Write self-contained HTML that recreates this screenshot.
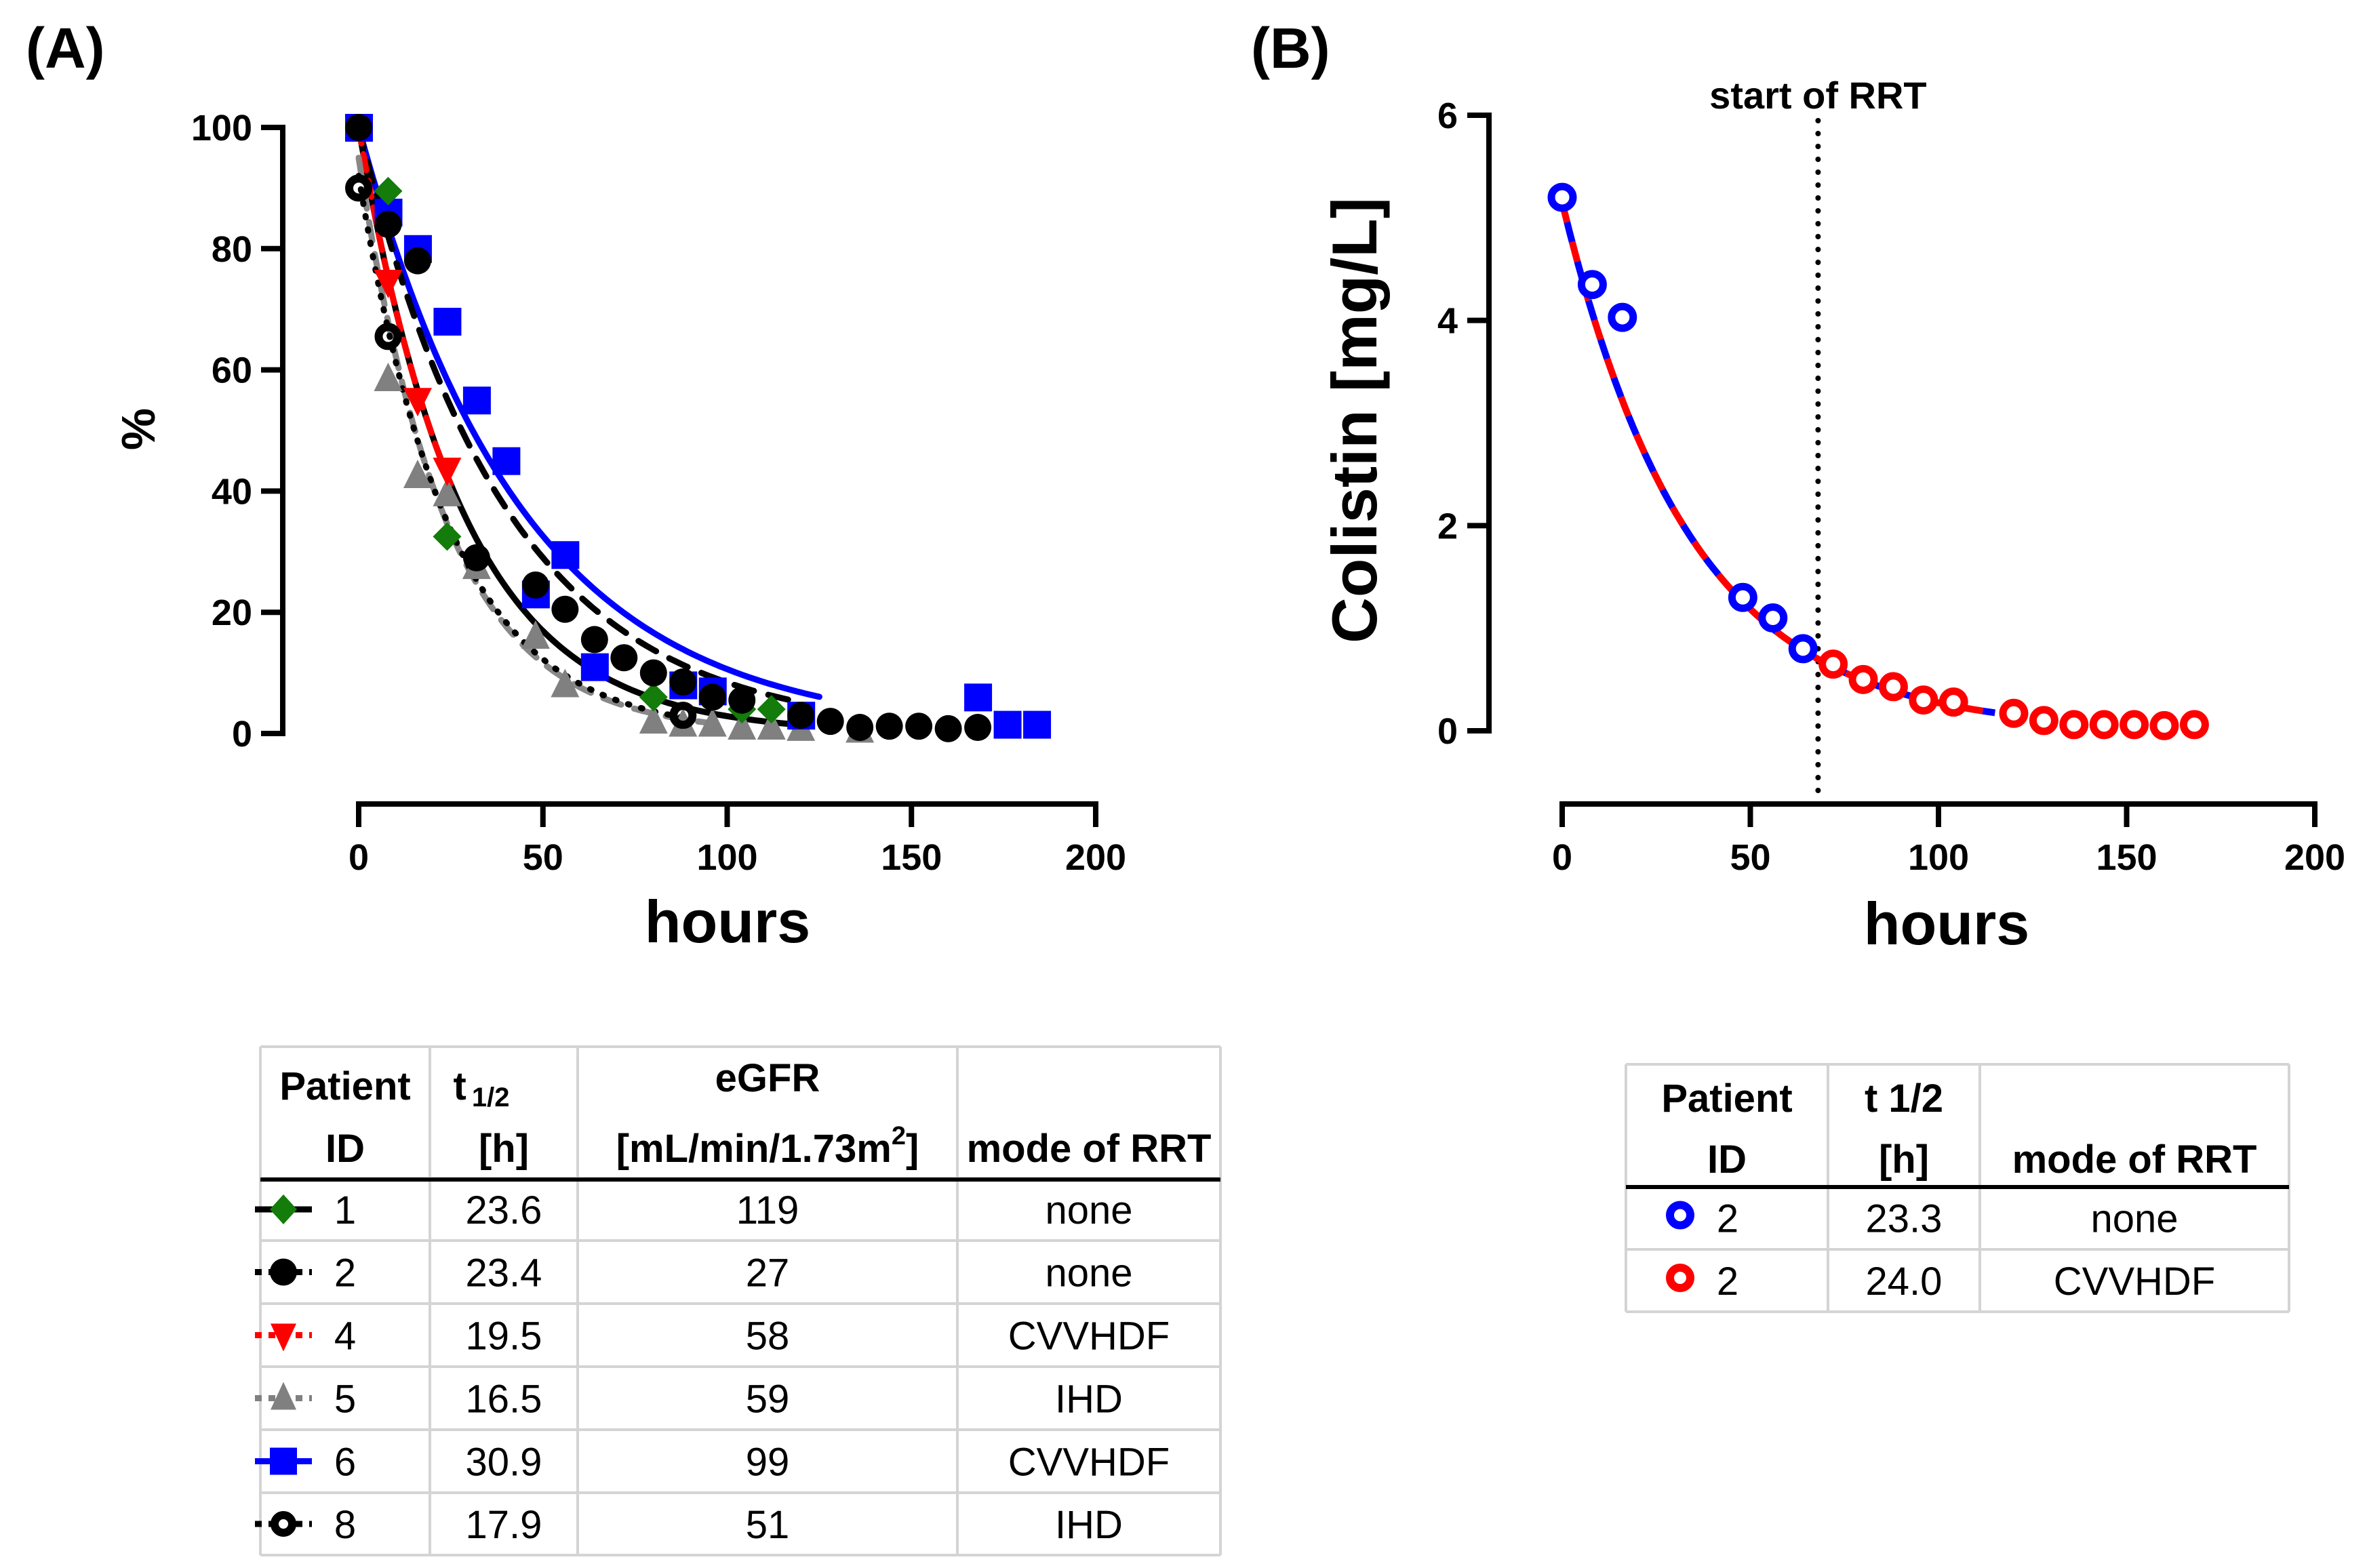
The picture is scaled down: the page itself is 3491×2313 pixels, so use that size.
<!DOCTYPE html>
<html><head><meta charset="utf-8"><style>
html,body{margin:0;padding:0;background:#fff;}
svg{display:block;}
.tk{font-family:"Liberation Sans",Arial,sans-serif;font-weight:bold;font-size:54px;fill:#000;}
.tb{font-family:"Liberation Sans Narrow","Liberation Sans",sans-serif;font-size:58px;fill:#000;}
.tbh{font-family:"Liberation Sans Narrow","Liberation Sans",sans-serif;font-size:58px;font-weight:bold;fill:#000;}
</style></head><body>
<svg id="fig" xmlns="http://www.w3.org/2000/svg" width="3491" height="2313" viewBox="0 0 3491 2313">
<rect width="3491" height="2313" fill="#fff"/>
<text x="38" y="100" font-family="Liberation Sans,sans-serif" font-weight="bold" font-size="84">(A)</text>
<text x="1845" y="100" font-family="Liberation Sans,sans-serif" font-weight="bold" font-size="84">(B)</text>
<g id="chartA"></g>
<g id="chartB"></g>
<g id="tableA"></g>
<g id="tableB"></g>
</svg>
<script>
// ---------- Chart A data ----------
const aXTicks = [0, 50, 100, 150, 200];
const aYTicks = [0, 20, 40, 60, 80, 100];
const p1Hours = [8, 24, 80, 104, 112];
const p1Vals  = [89.5, 32.5, 6, 4, 4];
const p2Hours = [0, 8, 16, 32, 48, 56, 64, 72, 80, 88, 96, 104, 120, 128, 136, 144, 152, 160, 168];
const p2Vals  = [100, 84, 78, 29, 24.5, 20.5, 15.5, 12.5, 10, 8.5, 6, 5.5, 3, 2, 1, 1.2, 1.2, 0.8, 1];
const p4Hours = [8, 16, 24];
const p4Vals  = [74.5, 55, 43.5];
const p5Hours = [8, 16, 24, 32, 48, 56, 80, 88, 96, 104, 112, 120, 136];
const p5Vals  = [58.5, 42.5, 39.5, 27.5, 16, 8, 2, 1.5, 1.5, 1, 1, 0.8, 0.5];
const p6Hours = [0, 8, 16, 24, 32, 40, 48, 56, 64, 88, 96, 120, 168, 176, 184];
const p6Vals  = [100, 86, 80, 68, 55, 45, 23, 29.5, 11, 8, 7, 3, 6, 1.5, 1.5];
const p8Hours = [0, 8, 88];
const p8Vals  = [90, 65.5, 3];
// fitted curves: start value, half-life, end hour
const fitY0   = [100, 100, 100, 100, 95, 92];
const fitHalf = [30.9, 28, 19.5, 19.5, 16.5, 17.2];
const fitEnd  = [125, 120, 120, 25, 100, 90];

// ---------- Chart B data ----------
const bXTicks = [0, 50, 100, 150, 200];
const bYTicks = [0, 2, 4, 6];
const bBlueHours = [0, 8, 16, 48, 56, 64];
const bBlueVals  = [5.2, 4.35, 4.03, 1.3, 1.1, 0.8];
const bRedHours  = [72, 80, 88, 96, 104, 120, 128, 136, 144, 152, 160, 168];
const bRedVals   = [0.65, 0.5, 0.43, 0.3, 0.28, 0.17, 0.1, 0.06, 0.06, 0.06, 0.05, 0.06];
const bFitY0 = [5.15];
const bFitHalf = [23.6];
const bFitEnd = [115];
const bRRTHour = [68];

const NS = "http://www.w3.org/2000/svg";
function mk(tag, attrs, parent){const e=document.createElementNS(NS,tag);for(const k in attrs)e.setAttribute(k,attrs[k]);if(parent)parent.appendChild(e);return e;}

// ---------- Chart A ----------
(function(){
const g=document.getElementById('chartA');
const X=t=>529+(t/200)*(1616-529);
const Y=v=>1082-(v/100)*(1082-188);
let e;
e=mk('line',{x1:417,y1:184,x2:417,y2:1086,stroke:'#000','stroke-width':8},g);


aYTicks.forEach(v=>{
  e=mk('line',{x1:385,y1:Y(v),x2:417,y2:Y(v),stroke:'#000','stroke-width':8},g);
  
  
  e=mk('text',{x:372,y:Y(v)+19,'text-anchor':'end',class:'tk'},g);e.textContent=v;
  
  
});
e=mk('line',{x1:X(0)-4,y1:1186,x2:X(200)+4,y2:1186,stroke:'#000','stroke-width':8},g);


aXTicks.forEach(v=>{
  e=mk('line',{x1:X(v),y1:1186,x2:X(v),y2:1220,stroke:'#000','stroke-width':8},g);
  
  
  e=mk('text',{x:X(v),y:1283,'text-anchor':'middle',class:'tk'},g);e.textContent=v;
  
  
});
e=mk('text',{x:1073,y:1390,'text-anchor':'middle','font-family':'Liberation Sans,sans-serif','font-weight':'bold','font-size':88},g);e.textContent='hours';


e=mk('text',{x:0,y:0,'text-anchor':'middle','font-family':'Liberation Sans,sans-serif','font-weight':'bold','font-size':70,transform:'translate(228,633) rotate(-90)'},g);e.textContent='%';


// curves
const styles=[['#0000ff','none'],['#000','30 22'],['#000','none'],['#ff0000','24 16'],['#888','28 20'],['#000','2 18']];
const fitNames=['fit-patient-6','fit-patient-2','fit-patient-1','fit-patient-4','fit-patient-5','fit-patient-8'];
fitY0.forEach((y0,i)=>{
  let d='';
  for(let t=0;t<=fitEnd[i];t+=1){const v=y0*Math.pow(2,-t/fitHalf[i]);d+=(t?'L':'M')+X(t).toFixed(1)+' '+Y(v).toFixed(1);}
  e=mk('path',{d:d,fill:'none',stroke:styles[i][0],'stroke-width':9,'stroke-dasharray':styles[i][1],'stroke-linecap':'round'},g);
  
  
});
function pts(hours,vals,shape,color,name){
  hours.forEach((t,i)=>{
    const x=X(t),y=Y(vals[i]);let m;
    if(shape==='sq')m=mk('rect',{x:x-20,y:y-20,width:41,height:41,fill:color},g);
    else if(shape==='ci')m=mk('circle',{cx:x,cy:y,r:20,fill:color},g);
    else if(shape==='oc')m=mk('circle',{cx:x,cy:y,r:14,fill:'none',stroke:color,'stroke-width':12},g);
    else if(shape==='di')m=mk('polygon',{points:`${x},${y-21} ${x+21},${y} ${x},${y+21} ${x-21},${y}`,fill:color},g);
    else if(shape==='td')m=mk('polygon',{points:`${x-21},${y-18} ${x+21},${y-18} ${x},${y+24}`,fill:color},g);
    else if(shape==='tu')m=mk('polygon',{points:`${x-21},${y+18} ${x+21},${y+18} ${x},${y-24}`,fill:color},g);
    
    
  });
}
pts(p5Hours,p5Vals,'tu','#808080','point-patient-5');
pts(p6Hours,p6Vals,'sq','#0000ff','point-patient-6');
pts(p1Hours,p1Vals,'di','#137c0a','point-patient-1');
pts(p4Hours,p4Vals,'td','#ff0000','point-patient-4');
pts(p2Hours,p2Vals,'ci','#000','point-patient-2');
pts(p8Hours,p8Vals,'oc','#000','point-patient-8');
})();

// ---------- Chart B ----------
(function(){
const g=document.getElementById('chartB');
const X=t=>2304+(t/200)*(3414-2304);
const Y=v=>1078-(v/6)*(1078-170);
let e;
e=mk('line',{x1:2196,y1:166,x2:2196,y2:1082,stroke:'#000','stroke-width':8},g);


bYTicks.forEach(v=>{
  e=mk('line',{x1:2164,y1:Y(v),x2:2196,y2:Y(v),stroke:'#000','stroke-width':8},g);
  
  
  e=mk('text',{x:2150,y:Y(v)+19,'text-anchor':'end',class:'tk'},g);e.textContent=v;
  
  
});
e=mk('line',{x1:X(0)-4,y1:1186,x2:X(200)+4,y2:1186,stroke:'#000','stroke-width':8},g);


bXTicks.forEach(v=>{
  e=mk('line',{x1:X(v),y1:1186,x2:X(v),y2:1220,stroke:'#000','stroke-width':8},g);
  
  
  e=mk('text',{x:X(v),y:1283,'text-anchor':'middle',class:'tk'},g);e.textContent=v;
  
  
});
e=mk('text',{x:2871,y:1393,'text-anchor':'middle','font-family':'Liberation Sans,sans-serif','font-weight':'bold','font-size':88},g);e.textContent='hours';


e=mk('text',{x:0,y:0,'text-anchor':'middle','font-family':'Liberation Sans,sans-serif','font-weight':'bold','font-size':94,transform:'translate(2030,620) rotate(-90)'},g);e.textContent='Colistin  [mg/L]';


e=mk('line',{x1:X(bRRTHour[0]),y1:178,x2:X(bRRTHour[0]),y2:1180,stroke:'#000','stroke-width':8,'stroke-dasharray':'0 19','stroke-linecap':'round'},g);


e=mk('text',{x:X(bRRTHour[0]),y:160,'text-anchor':'middle','font-family':'Liberation Sans,sans-serif','font-weight':'bold','font-size':56},g);e.textContent='start of RRT';


let d='';
for(let t=0;t<=bFitEnd[0];t+=1){const v=bFitY0[0]*Math.pow(2,-t/bFitHalf[0]);d+=(t?'L':'M')+X(t).toFixed(1)+' '+Y(v).toFixed(1);}
e=mk('path',{d:d,fill:'none',stroke:'#ff0000','stroke-width':10,'stroke-dasharray':'30 30'},g);


e=mk('path',{d:d,fill:'none',stroke:'#0000ff','stroke-width':10,'stroke-dasharray':'30 30','stroke-dashoffset':30},g);


bBlueHours.forEach((t,i)=>{
  e=mk('circle',{cx:X(t),cy:Y(bBlueVals[i]),r:16,fill:'#fff',stroke:'#0000ff','stroke-width':11},g);
  
  
});
bRedHours.forEach((t,i)=>{
  e=mk('circle',{cx:X(t),cy:Y(bRedVals[i]),r:16,fill:'#fff',stroke:'#ff0000','stroke-width':11},g);
  
  
});
})();

// ---------- Tables ----------
function gridTable(g,cols,rows,headBottom){
  let e;
  const top=rows[0],bot=rows[rows.length-1];
  cols.forEach(x=>{e=mk('line',{x1:x,y1:top,x2:x,y2:bot,stroke:'#d4d4d4','stroke-width':4},g);
    
    });
  rows.forEach(y=>{e=mk('line',{x1:cols[0],y1:y,x2:cols[cols.length-1],y2:y,stroke:'#d4d4d4','stroke-width':4},g);
    
    });
  e=mk('line',{x1:cols[0],y1:headBottom,x2:cols[cols.length-1],y2:headBottom,stroke:'#000','stroke-width':6},g);
  
  
}
function txt(g,x,y,s,cls,name,anchor){const e=mk('text',{x:x,y:y,'text-anchor':anchor||'middle',class:cls},g);e.textContent=s;
  
  return e;}
(function(){
const g=document.getElementById('tableA');
const cols=[384,634,852,1412,1800];
const rows=[1544,1738,1830,1923,2016,2109,2202,2294];
gridTable(g,cols,rows,1740);
txt(g,509,1622,'Patient','tbh','header-patient');
txt(g,509,1714,'ID','tbh','header-id');
const th=txt(g,710,1622,'t','tbh','header-half-life');
const sub=mk('tspan',{'font-size':40,dx:8,dy:10},th);sub.textContent='1/2';
txt(g,743,1714,'[h]','tbh','header-hours');
txt(g,1132,1610,'eGFR','tbh','header-egfr');
const eg=txt(g,1132,1714,'[mL/min/1.73m','tbh','header-egfr-unit');
const sup=mk('tspan',{'font-size':38,dy:-26},eg);sup.textContent='2';
const sup2=mk('tspan',{dy:26},eg);sup2.textContent=']';
txt(g,1606,1714,'mode of RRT','tbh','header-mode');
const ids=['1','2','4','5','6','8'],hl=['23.6','23.4','19.5','16.5','30.9','17.9'],eg2=['119','27','58','59','99','51'],md=['none','none','CVVHDF','IHD','CVVHDF','IHD'];
const sym=['di','ci','td','tu','sq','oc'],col=['#137c0a','#000','#ff0000','#808080','#0000ff','#000'],lc=['#000','#000','#ff0000','#808080','#0000ff','#000'];
ids.forEach((id,i)=>{
  const cy=(rows[i+1]+rows[i+2])/2, by=cy+21;
  let e=mk('line',{x1:376,y1:cy,x2:460,y2:cy,stroke:lc[i],'stroke-width':9,'stroke-dasharray':i===0||i===4?'none':'10 10'},g);
  
  
  const x=418,y=cy;let m;
  if(sym[i]==='di')m=mk('polygon',{points:`${x},${y-22} ${x+20},${y} ${x},${y+22} ${x-20},${y}`,fill:col[i]},g);
  else if(sym[i]==='ci')m=mk('circle',{cx:x,cy:y,r:20,fill:col[i]},g);
  else if(sym[i]==='td')m=mk('polygon',{points:`${x-19},${y-17} ${x+19},${y-17} ${x},${y+24}`,fill:col[i]},g);
  else if(sym[i]==='tu')m=mk('polygon',{points:`${x-19},${y+17} ${x+19},${y+17} ${x},${y-24}`,fill:col[i]},g);
  else if(sym[i]==='sq')m=mk('rect',{x:x-20,y:y-20,width:40,height:40,fill:col[i]},g);
  else m=mk('circle',{cx:x,cy:y,r:13,fill:'#fff',stroke:col[i],'stroke-width':12},g);
  
  
  txt(g,509,by,id,'tb','cell-patient-id');
  txt(g,743,by,hl[i],'tb','cell-half-life');
  txt(g,1132,by,eg2[i],'tb','cell-egfr');
  txt(g,1606,by,md[i],'tb','cell-mode');
});
})();
(function(){
const g=document.getElementById('tableB');
const cols=[2398,2696,2920,3376];
const rows=[1570,1750,1843,1935];
gridTable(g,cols,rows,1751);
txt(g,2547,1640,'Patient','tbh','header-patient');
txt(g,2547,1730,'ID','tbh','header-id');
txt(g,2808,1640,'t 1/2','tbh','header-half-life');
txt(g,2808,1730,'[h]','tbh','header-hours');
txt(g,3148,1730,'mode of RRT','tbh','header-mode');
const cs=['#0000ff','#ff0000'],hl=['23.3','24.0'],md=['none','CVVHDF'];
[0,1].forEach(i=>{
  const cy=(rows[i+1]+rows[i+2])/2, by=cy+21;
  let m=mk('circle',{cx:2478,cy:cy-4,r:15,fill:'#fff',stroke:cs[i],'stroke-width':12},g);
  
  
  txt(g,2548,by,'2','tb','cell-patient-id');
  txt(g,2808,by,hl[i],'tb','cell-half-life');
  txt(g,3148,by,md[i],'tb','cell-mode');
});
})();
</script>
</body></html>
